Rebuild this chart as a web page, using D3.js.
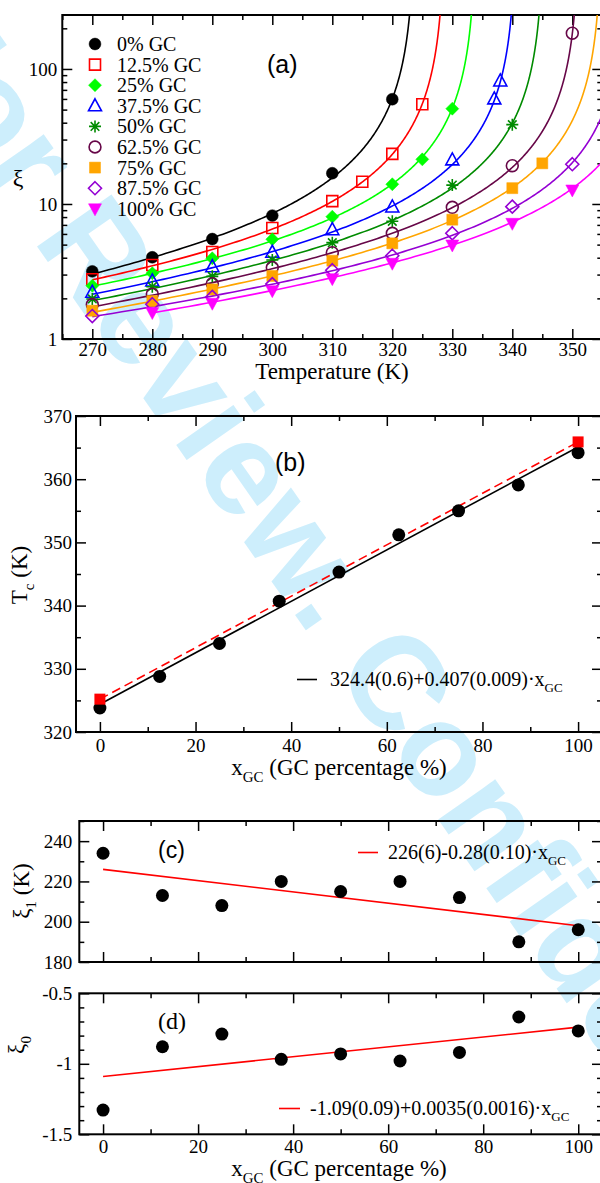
<!DOCTYPE html>
<html>
<head>
<meta charset="utf-8">
<script src="https://cdn.jsdelivr.net/npm/d3@7"></script>
<style>
  html, body { margin: 0; padding: 0; background: #fff; }
  svg { display: block; }
</style>
</head>
<body>
<svg id="chart" width="600" height="1183"></svg>
<script>
// ---------------- DATA ----------------
const gcLabels = ["0% GC", "12.5% GC", "25% GC", "37.5% GC", "50% GC", "62.5% GC", "75% GC", "87.5% GC", "100% GC"];
const gcPercent = [0, 12.5, 25, 37.5, 50, 62.5, 75, 87.5, 100];

// Panel (a): correlation length xi vs temperature, one array pair per GC content
const tempGC0   = [270, 280, 290, 300, 310, 320];
const xiGC0     = [3.17, 4.03, 5.5, 8.2, 16.9, 59.7];
const tempGC125 = [270, 280, 290, 300, 310, 315, 320, 325];
const xiGC125   = [2.77, 3.53, 4.41, 6.64, 10.5, 14.6, 23.5, 54.8];
const tempGC25  = [270, 280, 290, 300, 310, 320, 325, 330];
const xiGC25    = [2.48, 3.07, 3.96, 5.48, 8.05, 14.0, 21.4, 50.8];
const tempGC375 = [270, 280, 290, 300, 310, 320, 330, 337, 338];
const xiGC375   = [2.22, 2.69, 3.43, 4.39, 6.45, 9.5, 21.2, 60, 81.5];
const tempGC50  = [270, 280, 290, 300, 310, 320, 330, 340];
const xiGC50    = [1.98, 2.44, 2.91, 3.85, 5.17, 7.44, 13.8, 38.7];
const tempGC625 = [270, 280, 290, 300, 310, 320, 330, 340, 350];
const xiGC625   = [1.80, 2.15, 2.57, 3.38, 4.36, 6.07, 9.45, 19.2, 184];
const tempGC75  = [270, 280, 290, 300, 310, 320, 330, 340, 345];
const xiGC75    = [1.62, 1.91, 2.33, 2.93, 3.80, 5.11, 7.65, 13.1, 20.0];
const tempGC875 = [270, 280, 290, 300, 310, 320, 330, 340, 350];
const xiGC875   = [1.48, 1.81, 2.05, 2.55, 3.23, 4.14, 6.07, 9.55, 19.7];
const tempGC100 = [280, 290, 300, 310, 320, 330, 340, 350];
const xiGC100   = [1.57, 1.84, 2.28, 2.80, 3.64, 4.97, 7.19, 12.7];

// Panel (b): critical temperature per GC content
const tcValues   = [323.8, 328.8, 334.0, 340.7, 345.3, 351.2, 355.0, 359.1, 364.2];
const tcRefX     = [0, 100];
const tcRefY     = [325.2, 365.9];
const tcFit      = [324.4, 0.407];      // intercept, slope
const tcFitLabel = "324.4(0.6)+0.407(0.009)·x";

// Panel (c): xi_1 per GC content
const xi1Values   = [234, 213, 208, 220, 215, 220, 212, 190, 196];
const xi1Fit      = [226, -0.28];
const xi1FitLabel = "226(6)-0.28(0.10)·x";

// Panel (d): xi_0 per GC content
const xi0Values   = [-1.328, -0.879, -0.789, -0.968, -0.930, -0.980, -0.919, -0.668, -0.767];
const xi0Fit      = [-1.09, 0.0035];
const xi0FitLabel = "-1.09(0.09)+0.0035(0.0016)·x";

// Tick labels
const ticksA_x = [270, 280, 290, 300, 310, 320, 330, 340, 350];
const ticksA_y = [1, 10, 100];
const ticksB_x = [0, 20, 40, 60, 80, 100];
const ticksB_y = [320, 330, 340, 350, 360, 370];
const ticksC_y = [180, 200, 220, 240];
const ticksD_y = [-1.5, -1, -0.5];

const watermarkText = "For Review. Confidential - ACS";

// ---------------- STYLE ----------------
const seriesTemps = [tempGC0, tempGC125, tempGC25, tempGC375, tempGC50, tempGC625, tempGC75, tempGC875, tempGC100];
const seriesXi    = [xiGC0, xiGC125, xiGC25, xiGC375, xiGC50, xiGC625, xiGC75, xiGC875, xiGC100];
const colors = ["#000000", "#ff0000", "#00ff00", "#0000ff", "#008b00", "#670748", "#ffa500", "#9400d3", "#ff00ff"];
const markers = ["circleF", "squareO", "diamondF", "triUpO", "star", "circleO", "squareF", "diamondO", "triDownF"];

const SERIF = "'Liberation Serif', 'Times New Roman', Times, serif";
const SANS = "'Liberation Sans', Arial, Helvetica, sans-serif";

const svg = d3.select("#chart");
svg.append("rect").attr("width", 600).attr("height", 1183).attr("fill", "#fff");

// watermark
svg.append("text")
  .attr("transform", "translate(-111,35) rotate(55)")
  .attr("font-family", SANS)
  .attr("font-weight", "bold")
  .attr("font-size", 132)
  .attr("fill", "#cdeefc")
  .text(watermarkText);

function markerPath(type) {
  switch (type) {
    case "circleF": case "circleO": return d3.symbol(d3.symbolCircle, 110)();
    case "squareF": case "squareO": return "M-5.5,-5.5H5.5V5.5H-5.5Z";
    case "diamondF": case "diamondO": return "M0,-6.5L6.5,0L0,6.5L-6.5,0Z";
    case "triUpO": return "M0,-7L6.5,5L-6.5,5Z";
    case "triDownF": return "M0,7L6.5,-5L-6.5,-5Z";
    case "star": return "M-6,0H6M0,-6V6M-4.3,-4.3L4.3,4.3M-4.3,4.3L4.3,-4.3";
  }
}
function drawMarker(g, type, color, x, y) {
  const filled = type.endsWith("F");
  g.append("path")
    .attr("transform", `translate(${x},${y})`)
    .attr("d", markerPath(type))
    .attr("fill", type === "star" ? "none" : (filled ? color : "none"))
    .attr("stroke", color)
    .attr("stroke-width", type === "star" ? 1.6 : (filled ? 0.5 : 1.6));
}

function frame(g, x, y, o) {
  const [x0, x1] = x.range();
  const [y0, y1] = y.range(); // y0 bottom, y1 top
  const style = sel => {
    sel.select(".domain").remove();
    sel.selectAll("line").attr("stroke", "#000").attr("stroke-width", 1.5);
    sel.selectAll("text").attr("font-family", SERIF).attr("font-size", 19).attr("fill", "#000");
  };
  const ax = (axisFn, scale, vals, size, fmt, pad, tr) => {
    g.append("g").attr("transform", tr)
      .call(axisFn(scale).tickValues(vals).tickSize(-size).tickPadding(pad).tickFormat(fmt))
      .call(style);
  };
  const blank = () => "";
  ax(d3.axisBottom, x, o.xMajor, 10, o.showX ? o.xFmt : blank, o.xPad, `translate(0,${y0})`);
  ax(d3.axisBottom, x, o.xMinor, 5, blank, 0, `translate(0,${y0})`);
  ax(d3.axisTop, x, o.xMajor, 10, blank, 0, `translate(0,${y1})`);
  ax(d3.axisTop, x, o.xMinor, 5, blank, 0, `translate(0,${y1})`);
  ax(d3.axisLeft, y, o.yMajor, 10, o.yFmt, o.yPad, `translate(${x0},0)`);
  ax(d3.axisLeft, y, o.yMinor, 5, blank, 0, `translate(${x0},0)`);
  ax(d3.axisRight, y, o.yMajor, 10, blank, 0, `translate(${x1},0)`);
  ax(d3.axisRight, y, o.yMinor, 5, blank, 0, `translate(${x1},0)`);
  g.append("rect").attr("x", x0).attr("y", y1).attr("width", x1 - x0).attr("height", y0 - y1)
    .attr("fill", "none").attr("stroke", "#000").attr("stroke-width", 2);
}

function subText(g, x, y, main, sub, fs, opts = {}) {
  const t = g.append("text").attr("x", x).attr("y", y)
    .attr("font-family", SERIF).attr("font-size", fs).attr("fill", "#000")
    .attr("text-anchor", opts.anchor || "start");
  if (opts.rotate) t.attr("transform", `rotate(-90,${x},${y})`);
  t.append("tspan").text(main);
  t.append("tspan").attr("font-size", fs * 0.65).attr("dy", fs * 0.3).text(sub);
  if (opts.rest) t.append("tspan").attr("dy", -fs * 0.3).text(opts.rest);
  return t;
}
const plainFmt = d => String(d);

// ---------------- PANEL (a) ----------------
const xA = d3.scaleLinear([265, 355], [62.3, 602.3]);
const yA = d3.scaleLog([1, 251], [339, 15]);
const gA = svg.append("g");
const minorLog = [];
[1, 10, 100].forEach(d => { for (let k = 2; k <= 9; k++) if (d * k < 251) minorLog.push(d * k); });
frame(gA, xA, yA, {
  xMajor: ticksA_x, xMinor: d3.range(265, 356, 5).filter(v => v % 10 !== 0),
  yMajor: ticksA_y, yMinor: minorLog, xFmt: plainFmt, yFmt: plainFmt,
  showX: true, xPad: 4, yPad: 5
});
svg.append("clipPath").attr("id", "clipA").append("rect")
  .attr("x", 62.3).attr("y", 15).attr("width", 540).attr("height", 324);

// fit curves xi = xi0 + xi1 / (Tc - T), parameters taken from panels (b)-(d)
const curveLine = d3.line().x(d => xA(d[0])).y(d => yA(d[1]));
seriesTemps.forEach((temps, i) => {
  const tc = tcValues[i], a1 = xi1Values[i], a0 = xi0Values[i];
  const dMax = tc - temps[0];
  const pts = d3.range(0, 301).map(k => {
    const dd = dMax * Math.pow(0.3 / dMax, k / 300);
    return [tc - dd, a0 + a1 / dd];
  });
  gA.append("path").attr("clip-path", "url(#clipA)")
    .attr("d", curveLine(pts)).attr("fill", "none")
    .attr("stroke", colors[i]).attr("stroke-width", 1.6);
});
seriesTemps.forEach((temps, i) => {
  temps.forEach((t, j) => drawMarker(gA, markers[i], colors[i], xA(t), yA(seriesXi[i][j])));
});
gcLabels.forEach((lab, i) => {
  const yy = 44 + i * 20.6;
  drawMarker(gA, markers[i], colors[i], 95, yy);
  gA.append("text").attr("x", 117).attr("y", yy + 7)
    .attr("font-family", SERIF).attr("font-size", 20).text(lab);
});
gA.append("text").attr("x", 267).attr("y", 73).attr("font-family", SANS).attr("font-size", 25).text("(a)");
gA.append("text").attr("x", 18).attr("y", 186).attr("text-anchor", "middle")
  .attr("font-family", SERIF).attr("font-size", 24).text("ξ");
gA.append("text").attr("x", 332).attr("y", 379).attr("text-anchor", "middle")
  .attr("font-family", SERIF).attr("font-size", 23).text("Temperature (K)");

// ---------------- PANEL (b) ----------------
const xB = d3.scaleLinear([-5, 105], [76, 602]);
const yB = d3.scaleLinear([320, 370], [732, 416]);
const gB = svg.append("g");
frame(gB, xB, yB, {
  xMajor: ticksB_x, xMinor: [10, 30, 50, 70, 90],
  yMajor: ticksB_y, yMinor: [325, 335, 345, 355, 365],
  xFmt: plainFmt, yFmt: plainFmt, showX: true, xPad: 7, yPad: 4
});
const lineB = d3.line().x(d => xB(d[0])).y(d => yB(d[1]));
gB.append("path").attr("d", lineB([[0, tcFit[0]], [100, tcFit[0] + tcFit[1] * 100]]))
  .attr("stroke", "#000").attr("stroke-width", 1.6).attr("fill", "none");
gB.append("path").attr("d", lineB(tcRefX.map((x, i) => [x, tcRefY[i]])))
  .attr("stroke", "#ff0000").attr("stroke-width", 1.6).attr("fill", "none").attr("stroke-dasharray", "9,5");
gcPercent.forEach((x, i) => gB.append("circle").attr("cx", xB(x)).attr("cy", yB(tcValues[i])).attr("r", 6.5).attr("fill", "#000"));
tcRefX.forEach((x, i) => gB.append("rect").attr("x", xB(x) - 5.5).attr("y", yB(tcRefY[i]) - 5.5)
  .attr("width", 11).attr("height", 11).attr("fill", "#ff0000"));
gB.append("line").attr("x1", 297).attr("x2", 317).attr("y1", 679.5).attr("y2", 679.5).attr("stroke", "#000").attr("stroke-width", 1.6);
subText(gB, 330, 686, tcFitLabel, "GC", 20);
gB.append("text").attr("x", 275).attr("y", 471).attr("font-family", SANS).attr("font-size", 25).text("(b)");
subText(gB, 27, 575, "T", "c", 23, { anchor: "middle", rotate: true, rest: " (K)" });
subText(gB, 339, 775, "x", "GC", 23, { anchor: "middle", rest: " (GC percentage %)" });

// ---------------- PANEL (c) ----------------
const xC = d3.scaleLinear([-5, 105], [79.3, 602]);
const yC = d3.scaleLinear([180, 250], [962, 821]);
const gC = svg.append("g");
frame(gC, xC, yC, {
  xMajor: ticksB_x, xMinor: [10, 30, 50, 70, 90],
  yMajor: ticksC_y, yMinor: [190, 210, 230, 250],
  xFmt: plainFmt, yFmt: plainFmt, showX: false, xPad: 5, yPad: 7
});
const lineC = d3.line().x(d => xC(d[0])).y(d => yC(d[1]));
gC.append("path").attr("d", lineC([[0, xi1Fit[0]], [100, xi1Fit[0] + xi1Fit[1] * 100]]))
  .attr("stroke", "#ff0000").attr("stroke-width", 1.6).attr("fill", "none");
gcPercent.forEach((x, i) => gC.append("circle").attr("cx", xC(x)).attr("cy", yC(xi1Values[i])).attr("r", 6.5).attr("fill", "#000"));
gC.append("line").attr("x1", 358).attr("x2", 378).attr("y1", 852.5).attr("y2", 852.5).attr("stroke", "#ff0000").attr("stroke-width", 1.6);
subText(gC, 388, 859, xi1FitLabel, "GC", 20);
gC.append("text").attr("x", 158).attr("y", 858).attr("font-family", SANS).attr("font-size", 23).text("(c)");
subText(gC, 29, 891, "ξ", "1", 23, { anchor: "middle", rotate: true, rest: " (K)" });

// ---------------- PANEL (d) ----------------
const xD = d3.scaleLinear([-5, 105], [79.3, 602]);
const yD = d3.scaleLinear([-1.5, -0.5], [1134.3, 993.3]);
const gD = svg.append("g");
frame(gD, xD, yD, {
  xMajor: ticksB_x, xMinor: [10, 30, 50, 70, 90],
  yMajor: ticksD_y, yMinor: [-1.4, -1.3, -1.2, -1.1, -0.9, -0.8, -0.7, -0.6],
  xFmt: plainFmt, yFmt: plainFmt, showX: true, xPad: 5, yPad: 7
});
const lineD = d3.line().x(d => xD(d[0])).y(d => yD(d[1]));
gD.append("path").attr("d", lineD([[0, xi0Fit[0]], [100, xi0Fit[0] + xi0Fit[1] * 100]]))
  .attr("stroke", "#ff0000").attr("stroke-width", 1.6).attr("fill", "none");
gcPercent.forEach((x, i) => gD.append("circle").attr("cx", xD(x)).attr("cy", yD(xi0Values[i])).attr("r", 6.5).attr("fill", "#000"));
gD.append("line").attr("x1", 279).attr("x2", 300).attr("y1", 1108.5).attr("y2", 1108.5).attr("stroke", "#ff0000").attr("stroke-width", 1.6);
subText(gD, 310, 1115, xi0FitLabel, "GC", 20);
gD.append("text").attr("x", 158).attr("y", 1029).attr("font-family", SERIF).attr("font-size", 24).text("(d)");
subText(gD, 24, 1045, "ξ", "0", 23, { anchor: "middle", rotate: true });
subText(gD, 339, 1176, "x", "GC", 23, { anchor: "middle", rest: " (GC percentage %)" });
</script>
</body>
</html>
